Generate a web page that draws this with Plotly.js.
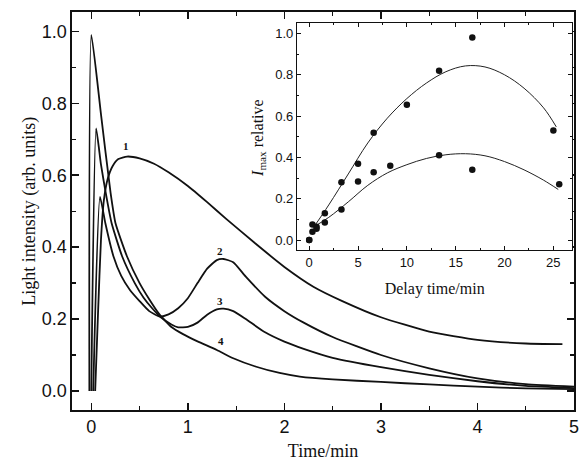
<!DOCTYPE html>
<html>
<head>
<meta charset="utf-8">
<script src="https://cdn.plot.ly/plotly-3.0.1.min.js"></script>
<style>
  html, body { margin: 0; padding: 0; background: #fff; }
  #chart { width: 586px; height: 461px; }
</style>
</head>
<body>
<div id="chart"></div>
<script>
// ---- Main panel: light intensity vs time (curves 1-4) ----
const t1 = [0.04, 0.07, 0.10, 0.13, 0.17, 0.22, 0.28, 0.37, 0.5, 0.65, 0.8, 1.0, 1.2, 1.4, 1.7, 2.0, 2.3, 2.6, 3.0, 3.5, 4.0, 4.5, 4.88];
const y1 = [0.0, 0.22, 0.42, 0.53, 0.59, 0.625, 0.645, 0.652, 0.647, 0.632, 0.608, 0.57, 0.525, 0.478, 0.41, 0.345, 0.29, 0.25, 0.205, 0.165, 0.142, 0.132, 0.13];

const t2 = [0.02, 0.09, 0.145, 0.23, 0.31, 0.40, 0.5, 0.6, 0.71, 0.8, 0.9, 1.0, 1.1, 1.2, 1.3, 1.37, 1.47, 1.6, 1.8, 2.0, 2.2, 2.5, 3.0, 3.5, 4.0, 4.5, 5.0];
const y2 = [0.0, 0.54, 0.467, 0.374, 0.32, 0.281, 0.25, 0.222, 0.207, 0.213, 0.23, 0.258, 0.30, 0.34, 0.364, 0.367, 0.358, 0.318, 0.262, 0.222, 0.19, 0.15, 0.10, 0.063, 0.035, 0.019, 0.012];

const t3 = [0.0, 0.05, 0.1, 0.15, 0.21, 0.32, 0.45, 0.54, 0.63, 0.72, 0.83, 0.9, 1.0, 1.1, 1.2, 1.3, 1.37, 1.47, 1.6, 1.8, 2.0, 2.2, 2.5, 3.0, 3.5, 4.0, 4.5, 5.0];
const y3 = [0.0, 0.73, 0.63, 0.55, 0.467, 0.374, 0.30, 0.26, 0.23, 0.205, 0.185, 0.177, 0.178, 0.19, 0.212, 0.227, 0.229, 0.222, 0.20, 0.163, 0.137, 0.117, 0.092, 0.066, 0.045, 0.027, 0.014, 0.008];

const t4 = [-0.02, 0.0, 0.1, 0.2, 0.25, 0.37, 0.5, 0.6, 0.7, 0.83, 0.95, 1.1, 1.3, 1.47, 1.7, 1.95, 2.16, 2.5, 3.0, 3.5, 4.0, 4.5, 5.0];
const y4 = [0.0, 0.99, 0.77, 0.55, 0.467, 0.374, 0.30, 0.255, 0.215, 0.178, 0.158, 0.138, 0.114, 0.091, 0.068, 0.05, 0.04, 0.032, 0.025, 0.018, 0.012, 0.007, 0.005];

const curveLabels = ["1", "2", "3", "4"];
const labelT = [0.36, 1.33, 1.33, 1.34];
const labelY = [0.68, 0.39, 0.25, 0.14];

// ---- Inset: I_max relative vs delay time ----
const upperDelay = [0.0, 0.33, 0.75, 1.6, 3.3, 5.0, 6.6, 10.0, 13.3, 16.7, 25.0];
const upperImax  = [0.0, 0.075, 0.065, 0.13, 0.28, 0.37, 0.52, 0.655, 0.82, 0.98, 0.53];
const lowerDelay = [0.0, 0.33, 0.75, 1.6, 3.3, 5.0, 6.6, 8.3, 13.3, 16.7, 25.6];
const lowerImax  = [0.0, 0.04, 0.055, 0.085, 0.148, 0.283, 0.328, 0.36, 0.41, 0.34, 0.27];

const upperFitT = [0.5, 2, 4, 6, 8, 10, 12, 14, 16, 18, 20, 22, 24, 25.3];
const upperFitY = [0.065, 0.17, 0.32, 0.47, 0.59, 0.685, 0.76, 0.815, 0.843, 0.838, 0.80, 0.735, 0.64, 0.548];
const lowerFitT = [0.5, 2, 4, 6, 8, 10, 12, 14, 16, 18, 20, 22, 24, 25.5];
const lowerFitY = [0.065, 0.11, 0.185, 0.265, 0.325, 0.365, 0.395, 0.413, 0.418, 0.408, 0.38, 0.34, 0.29, 0.245];

const ink = '#111';
const mainLine = {color: ink, width: 1.8, shape: 'spline', smoothing: 0.5};

const traces = [
  {x: t1, y: y1, mode: 'lines', line: mainLine, xaxis: 'x', yaxis: 'y', showlegend: false, hoverinfo: 'skip'},
  {x: t2, y: y2, mode: 'lines', line: mainLine, xaxis: 'x', yaxis: 'y', showlegend: false, hoverinfo: 'skip'},
  {x: t3, y: y3, mode: 'lines', line: mainLine, xaxis: 'x', yaxis: 'y', showlegend: false, hoverinfo: 'skip'},
  {x: t4, y: y4, mode: 'lines', line: mainLine, xaxis: 'x', yaxis: 'y', showlegend: false, hoverinfo: 'skip'},
  {x: upperFitT, y: upperFitY, mode: 'lines', line: {color: '#222', width: 1, shape: 'spline'}, xaxis: 'x2', yaxis: 'y2', showlegend: false, hoverinfo: 'skip'},
  {x: lowerFitT, y: lowerFitY, mode: 'lines', line: {color: '#222', width: 1, shape: 'spline'}, xaxis: 'x2', yaxis: 'y2', showlegend: false, hoverinfo: 'skip'},
  {x: upperDelay, y: upperImax, mode: 'markers', marker: {color: ink, size: 6.5}, xaxis: 'x2', yaxis: 'y2', showlegend: false},
  {x: lowerDelay, y: lowerImax, mode: 'markers', marker: {color: ink, size: 6.5}, xaxis: 'x2', yaxis: 'y2', showlegend: false}
];

const tickFont = {family: 'Liberation Sans, Arial, sans-serif', size: 18, color: ink};
const titleFont = {family: 'Liberation Serif, Times New Roman, serif', size: 18, color: ink};
const insetTickFont = {family: 'Liberation Sans, Arial, sans-serif', size: 13, color: ink};
const insetTitleFont = {family: 'Liberation Serif, Times New Roman, serif', size: 16, color: ink};

const annotations = curveLabels.map((s, i) => ({
  x: labelT[i], y: labelY[i], xref: 'x', yref: 'y', text: '<b>' + s + '</b>',
  showarrow: false, font: {family: 'Liberation Serif, serif', size: 11, color: ink}
}));
annotations.push({
  xref: 'paper', yref: 'paper', x: -0.086, y: 0.5, xanchor: 'center', yanchor: 'middle',
  textangle: -90, showarrow: false, text: 'Light intensity (arb. units)', font: titleFont
});
annotations.push({
  xref: 'paper', yref: 'paper', x: 0.37, y: 0.683, xanchor: 'center', yanchor: 'middle',
  textangle: -90, showarrow: false, text: '<i>I</i><sub>max</sub> relative', font: insetTitleFont
});

const layout = {
  width: 586, height: 461,
  margin: {l: 72, r: 12, t: 12, b: 51},
  paper_bgcolor: '#fff', plot_bgcolor: '#fff',
  showlegend: false,
  xaxis: {
    domain: [0, 1], range: [-0.2, 5.0], tickvals: [0, 1, 2, 3, 4, 5],
    ticks: 'inside', ticklen: 7, tickwidth: 1.5, tickcolor: ink,
    minor: {ticks: 'inside', ticklen: 4, tickwidth: 1.2, tickcolor: ink, dtick: 0.5},
    showline: true, linewidth: 1.6, linecolor: ink, mirror: 'allticks',
    showgrid: false, zeroline: false, tickfont: tickFont,
    title: {text: 'Time/min', font: titleFont, standoff: 8}
  },
  yaxis: {
    domain: [0, 1], range: [-0.053, 1.054], tickvals: [0, 0.2, 0.4, 0.6, 0.8, 1.0],
    ticktext: ['0.0', '0.2', '0.4', '0.6', '0.8', '1.0'],
    ticks: 'inside', ticklen: 7, tickwidth: 1.5, tickcolor: ink,
    minor: {ticks: 'inside', ticklen: 4, tickwidth: 1.2, tickcolor: ink, dtick: 0.1},
    showline: true, linewidth: 1.6, linecolor: ink, mirror: 'allticks',
    showgrid: false, zeroline: false, tickfont: tickFont
  },
  xaxis2: {
    domain: [0.448, 0.997], anchor: 'y2', range: [-1.26, 26.96], tickvals: [0, 5, 10, 15, 20, 25],
    ticks: 'inside', ticklen: 4, tickwidth: 1, tickcolor: ink,
    minor: {ticks: 'inside', ticklen: 2, tickwidth: 1, tickcolor: ink, dtick: 2.5},
    showline: true, linewidth: 1, linecolor: ink, mirror: 'allticks',
    showgrid: false, zeroline: false, tickfont: insetTickFont,
    title: {text: 'Delay time/min', font: insetTitleFont, standoff: 14}
  },
  yaxis2: {
    domain: [0.402, 0.972], anchor: 'x2', range: [-0.048, 1.05], tickvals: [0, 0.2, 0.4, 0.6, 0.8, 1.0],
    ticktext: ['0.0', '0.2', '0.4', '0.6', '0.8', '1.0'],
    ticks: 'inside', ticklen: 4, tickwidth: 1, tickcolor: ink,
    minor: {ticks: 'inside', ticklen: 2, tickwidth: 1, tickcolor: ink, dtick: 0.1},
    showline: true, linewidth: 1, linecolor: ink, mirror: 'allticks',
    showgrid: false, zeroline: false, tickfont: insetTickFont
  },
  annotations: annotations
};

Plotly.newPlot('chart', traces, layout, {staticPlot: true, displayModeBar: false});
</script>
</body>
</html>
